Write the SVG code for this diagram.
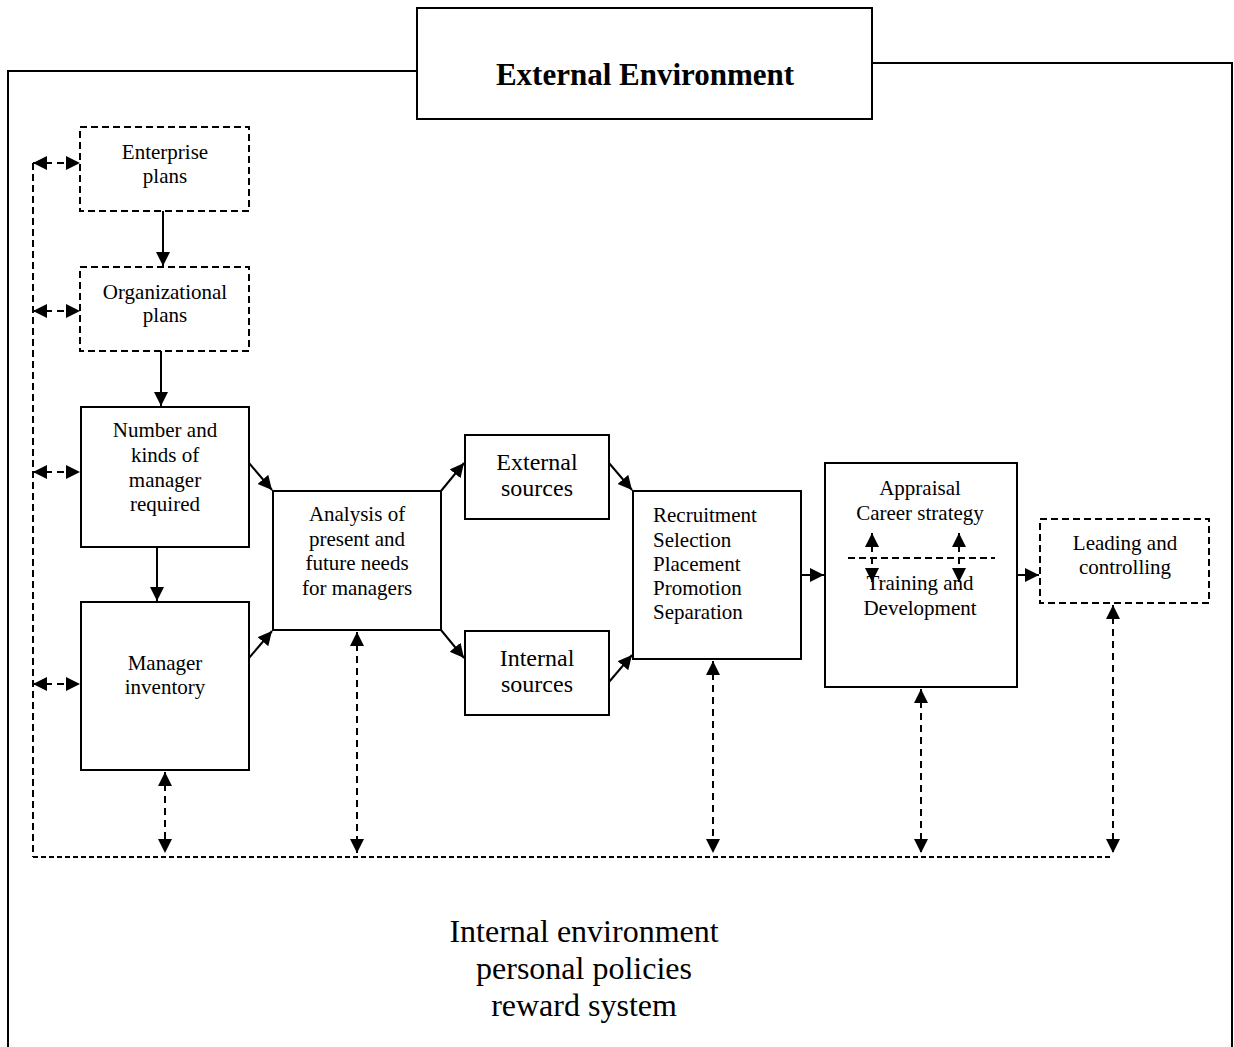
<svg xmlns="http://www.w3.org/2000/svg" width="1234" height="1047" viewBox="0 0 1234 1047">
<style>
text{font-family:"Liberation Serif","Times New Roman",serif;fill:#000}
.t{font-size:21px;text-anchor:middle}
.tl{font-size:21px;text-anchor:start}
.tb{font-size:24px;text-anchor:middle}
.big{font-size:32px;text-anchor:middle}
.box{fill:#fff;stroke:#000;stroke-width:2}
.dbox{fill:#fff;stroke:#000;stroke-width:2;stroke-dasharray:7,4}
.ln{fill:none;stroke:#000;stroke-width:2}
.a{fill:none;stroke:#000;stroke-width:2;marker-end:url(#ah)}
.da{fill:none;stroke:#000;stroke-width:2;stroke-dasharray:7,5;marker-start:url(#ah);marker-end:url(#ah)}
.dl{fill:none;stroke:#000;stroke-width:2;stroke-dasharray:7,4}
.dl2{fill:none;stroke:#000;stroke-width:2;stroke-dasharray:5,3}
</style>
<defs>
<marker id="ah" markerUnits="userSpaceOnUse" markerWidth="16" markerHeight="16" refX="14" refY="7" orient="auto-start-reverse" viewBox="0 0 16 16">
<path d="M0,0 L14,7 L0,14 z" fill="#000"/>
</marker>
</defs>
<rect width="1234" height="1047" fill="#fff"/>
<g id="frame">
<path class="ln" d="M417,71 H8 V1047"/>
<path class="ln" d="M872,63 H1232 V1047"/>
</g>
<g id="external-environment">
<rect class="box" x="417" y="8" width="455" height="111"/>
<text x="645" y="85" style="font-size:31px;font-weight:bold;text-anchor:middle">External Environment</text>
</g>
<g id="connectors">
<line class="a" x1="163" y1="211" x2="163" y2="266"/>
<line class="a" x1="161" y1="351" x2="161" y2="406"/>
<line class="a" x1="157" y1="547" x2="157" y2="601"/>
<line class="a" x1="249" y1="463" x2="272" y2="490"/>
<line class="a" x1="249" y1="658" x2="272" y2="631"/>
<line class="a" x1="441" y1="491" x2="464" y2="463"/>
<line class="a" x1="441" y1="630" x2="464" y2="658"/>
<line class="a" x1="609" y1="463" x2="632" y2="490"/>
<line class="a" x1="609" y1="682" x2="632" y2="655"/>
<line class="a" x1="801" y1="575" x2="824" y2="575"/>
<line class="a" x1="1017" y1="575" x2="1039" y2="575"/>
<path class="dl" d="M33,163 V857"/>
<path class="dl2" d="M33,857 H1113"/>
<line class="da" x1="33" y1="163" x2="80" y2="163"/>
<line class="da" x1="33" y1="311" x2="80" y2="311"/>
<line class="da" x1="33" y1="472" x2="80" y2="472"/>
<line class="da" x1="33" y1="684" x2="80" y2="684"/>
<line class="da" x1="165" y1="772" x2="165" y2="853"/>
<line class="da" x1="357" y1="632" x2="357" y2="853"/>
<line class="da" x1="713" y1="661" x2="713" y2="853"/>
<line class="da" x1="921" y1="689" x2="921" y2="853"/>
<line class="da" x1="1113" y1="605" x2="1113" y2="853"/>
</g>
<g id="enterprise-plans">
<rect class="dbox" x="80" y="127" width="169" height="84"/>
<text class="t" x="165" y="159">Enterprise</text>
<text class="t" x="165" y="183">plans</text>
</g>
<g id="organizational-plans">
<rect class="dbox" x="80" y="267" width="169" height="84"/>
<text class="t" x="165" y="299">Organizational</text>
<text class="t" x="165" y="322">plans</text>
</g>
<g id="number-kinds">
<rect class="box" x="81" y="407" width="168" height="140"/>
<text class="t" x="165" y="437">Number and</text>
<text class="t" x="165" y="462">kinds of</text>
<text class="t" x="165" y="487">manager</text>
<text class="t" x="165" y="511">required</text>
</g>
<g id="manager-inventory">
<rect class="box" x="81" y="602" width="168" height="168"/>
<text class="t" x="165" y="670">Manager</text>
<text class="t" x="165" y="694">inventory</text>
</g>
<g id="analysis">
<rect class="box" x="273" y="491" width="168" height="139"/>
<text class="t" x="357" y="521">Analysis of</text>
<text class="t" x="357" y="546">present and</text>
<text class="t" x="357" y="570">future needs</text>
<text class="t" x="357" y="595">for managers</text>
</g>
<g id="external-sources">
<rect class="box" x="465" y="435" width="144" height="84"/>
<text class="tb" x="537" y="470">External</text>
<text class="tb" x="537" y="496">sources</text>
</g>
<g id="internal-sources">
<rect class="box" x="465" y="631" width="144" height="84"/>
<text class="tb" x="537" y="666">Internal</text>
<text class="tb" x="537" y="692">sources</text>
</g>
<g id="recruitment">
<rect class="box" x="633" y="491" width="168" height="168"/>
<text class="tl" x="653" y="522">Recruitment</text>
<text class="tl" x="653" y="547">Selection</text>
<text class="tl" x="653" y="571">Placement</text>
<text class="tl" x="653" y="595">Promotion</text>
<text class="tl" x="653" y="619">Separation</text>
</g>
<g id="appraisal">
<rect class="box" x="825" y="463" width="192" height="224"/>
<text class="t" x="920" y="495">Appraisal</text>
<text class="t" x="920" y="520">Career strategy</text>
<text class="t" x="920" y="590">Training and</text>
<text class="t" x="920" y="615">Development</text>
<path class="dl" d="M848,558 H995"/>
<line class="da" x1="872" y1="533" x2="872" y2="582"/>
<line class="da" x1="959" y1="533" x2="959" y2="582"/>
</g>
<g id="leading-controlling">
<rect class="dbox" x="1040" y="519" width="169" height="84"/>
<text class="t" x="1125" y="550">Leading and</text>
<text class="t" x="1125" y="574">controlling</text>
</g>
<g id="internal-environment">
<text class="big" x="584" y="942">Internal environment</text>
<text class="big" x="584" y="979">personal policies</text>
<text class="big" x="584" y="1016">reward system</text>
</g>
</svg>
